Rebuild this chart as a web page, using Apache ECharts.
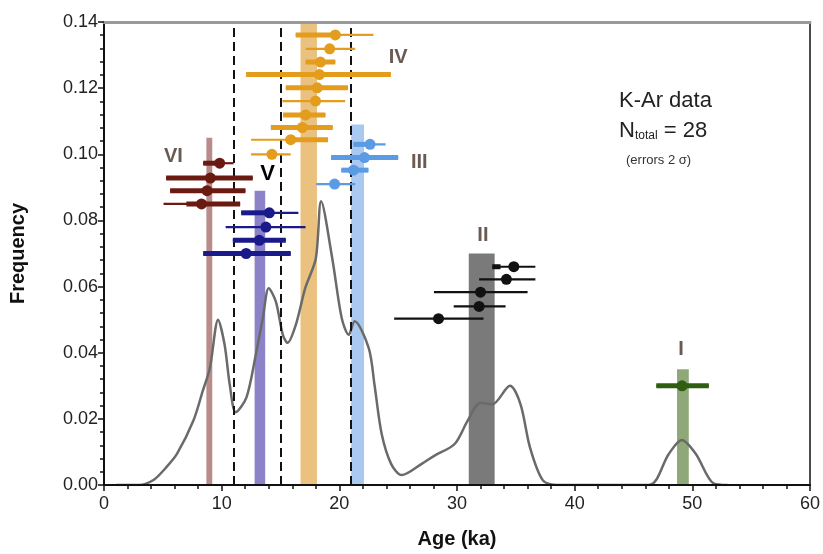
<!DOCTYPE html>
<html>
<head>
<meta charset="utf-8">
<script src="https://cdn.jsdelivr.net/npm/echarts@6/dist/echarts.min.js"></script>
<style>
  html, body { margin: 0; padding: 0; background: #fff; }
  #chart { width: 823px; height: 554px; }
</style>
</head>
<body>
<div id="chart"></div>
<script>
// density curve (age ka, frequency)
var curveAge  = [1, 3, 4.2, 5.2, 6.2, 7.6, 8.4, 9.0, 9.7, 10.25, 10.7, 11.2, 12.1, 12.9, 13.5, 14.0, 14.6, 15.2, 15.6, 16.3, 17.1, 18.0, 18.45, 19.4, 20.2, 20.8, 21.3, 22.5, 23.0, 23.6, 24.4, 25.3, 27.0, 28.1, 29.8, 30.9, 32.0, 33.0, 34.5, 35.4, 36.2, 37.3, 38.5, 46.3, 48.0, 49.1, 50.3, 51.8, 53];
var curveFreq = [0, 0, 0.0015, 0.005, 0.0094, 0.0195, 0.0285, 0.0354, 0.050, 0.0424, 0.030, 0.022, 0.0264, 0.0394, 0.0505, 0.0595, 0.0555, 0.0454, 0.043, 0.0484, 0.0595, 0.0685, 0.0858, 0.0685, 0.0505, 0.0454, 0.0495, 0.0414, 0.030, 0.0154, 0.0064, 0.003, 0.0064, 0.0089, 0.0124, 0.0194, 0.0249, 0.0244, 0.030, 0.0244, 0.0114, 0.0014, 0, 0, 0.0094, 0.0136, 0.0094, 0.0005, 0];

// population bands: [from, to, height]
var bandNames = ['VI', 'V', 'IV', 'III', 'II', 'I'];
var bandFrom  = [8.7, 12.8, 16.7, 21.0, 31.0, 48.7];
var bandTo    = [9.2, 13.7, 18.1, 22.1, 33.2, 49.7];
var bandTop   = [0.105, 0.089, 0.14, 0.109, 0.070, 0.035];
var bandColors = ['#b98c8c', '#8c82c8', '#ebc180', '#aac9f1', '#7a7a7a', '#8fa878'];

// dashed boundaries
var boundaries = [11, 15, 21];

// single ages: [age, y-position, lo, hi, innerLo, innerHi] (inner = thick part, null = thin only)
var agesVI = [
  [9.83, 0.0973, 8.43, 11.01, 8.43, 10.1],
  [9.04, 0.0928, 5.28, 12.64, 5.28, 12.64],
  [8.76, 0.0890, 5.62, 12.02, 5.62, 12.02],
  [8.29, 0.0850, 5.06, 11.57, 7.0, 11.57]
];
var agesV = [
  [14.05, 0.0823, 11.66, 16.52, 11.66, 14.2],
  [13.76, 0.0780, 10.34, 17.13, null, null],
  [13.2, 0.0740, 10.95, 15.45, 10.95, 15.45],
  [12.08, 0.0700, 8.43, 15.87, 8.43, 15.87]
];
var agesIV = [
  [19.66, 0.1361, 16.29, 22.9, 16.29, 19.66],
  [19.18, 0.1319, 17.13, 21.35, null, null],
  [18.4, 0.1279, 17.13, 19.66, 17.13, 19.66],
  [18.31, 0.1241, 12.08, 24.38, 12.08, 24.38],
  [18.12, 0.1201, 15.45, 20.73, 15.45, 20.73],
  [17.98, 0.1161, 15.17, 20.5, null, null],
  [17.13, 0.1119, 15.23, 18.82, 15.23, 18.82],
  [16.85, 0.1081, 14.18, 19.44, 14.18, 19.44],
  [15.87, 0.1044, 12.5, 19.04, 15.45, 19.04],
  [14.27, 0.1000, 12.5, 15.87, null, null]
];
var agesIII = [
  [22.61, 0.1030, 21.2, 23.93, 21.2, 22.61],
  [22.14, 0.0990, 19.3, 25.0, 19.3, 25.0],
  [21.2, 0.0952, 20.17, 22.47, 20.17, 22.47],
  [19.6, 0.0910, 18.03, 21.35, null, null]
];
var agesII = [
  [34.83, 0.0660, 33.0, 36.66, 33.0, 33.7],
  [34.2, 0.0622, 31.88, 36.66, null, null],
  [32.0, 0.0583, 28.04, 36.0, null, null],
  [31.88, 0.0540, 29.72, 34.13, null, null],
  [28.43, 0.0503, 24.66, 32.25, null, null]
];
var agesI = [
  [49.13, 0.030, 46.94, 51.4, 46.94, 51.4]
];

// group labels
var labelText = ['VI', 'V', 'IV', 'III', 'II', 'I'];
var labelAge  = [5.9, 13.9, 25.0, 26.8, 32.2, 49.05];
var labelFreq = [0.0994, 0.0940, 0.1292, 0.0976, 0.0754, 0.0411];

var curveData = curveAge.map(function (a, i) { return [a, curveFreq[i]]; });
var bandData = bandFrom.map(function (f, i) { return [f, bandTo[i], bandTop[i], i]; });
var labelData = labelText.map(function (t, i) { return [labelAge[i], labelFreq[i], i]; });

function barSeries(name, rows, color) {
  return {
    name: name,
    type: 'custom',
    z: 5,
    data: rows,
    encode: { x: [0, 2, 3], y: 1 },
    renderItem: function (params, api) {
      var row = rows[params.dataIndex];
      var p = api.coord([row[0], row[1]]);
      var a = api.coord([row[2], row[1]]);
      var b = api.coord([row[3], row[1]]);
      var kids = [{
        type: 'line',
        shape: { x1: a[0], y1: a[1], x2: b[0], y2: b[1] },
        style: { stroke: color, lineWidth: 2.2 }
      }];
      if (row[4] != null) {
        var c = api.coord([row[4], row[1]]);
        var d = api.coord([row[5], row[1]]);
        kids.push({
          type: 'line',
          shape: { x1: c[0], y1: c[1], x2: d[0], y2: d[1] },
          style: { stroke: color, lineWidth: 5 }
        });
      }
      kids.push({
        type: 'circle',
        shape: { cx: p[0], cy: p[1], r: 5.5 },
        style: { fill: color }
      });
      return { type: 'group', children: kids };
    }
  };
}

var chart = echarts.init(document.getElementById('chart'));
var fontFam = '"Liberation Sans", Arial, sans-serif';

chart.setOption({
  animation: false,
  backgroundColor: '#fff',
  textStyle: { fontFamily: fontFam },
  grid: { left: 100, right: 11, top: 22, bottom: 66 },
  xAxis: [{
    type: 'value', min: 0, max: 60, interval: 10, z: 10,
    name: 'Age (ka)', nameLocation: 'middle', nameGap: 44,
    nameTextStyle: { fontSize: 20, fontWeight: 'bold', color: '#111' },
    axisLine: { onZero: false, lineStyle: { color: '#111', width: 2 } },
    axisTick: { length: 6, lineStyle: { color: '#111', width: 1.5 } },
    minorTick: { show: true, splitNumber: 5, length: 4, lineStyle: { color: '#111', width: 1.5 } },
    axisLabel: { fontSize: 18, color: '#222', margin: 10 },
    splitLine: { show: false }
  }, {
    type: 'value', min: 0, max: 60, position: 'top', z: 10,
    axisLine: { show: true, onZero: false, lineStyle: { color: '#9a9a9a', width: 3 } },
    axisTick: { show: false }, axisLabel: { show: false }, splitLine: { show: false }
  }],
  yAxis: [{
    type: 'value', min: 0, max: 0.14, interval: 0.02, z: 10,
    name: 'Frequency', nameLocation: 'middle', nameGap: 76,
    nameTextStyle: { fontSize: 20, fontWeight: 'bold', color: '#111' },
    axisLine: { show: true, onZero: false, lineStyle: { color: '#111', width: 2 } },
    axisTick: { length: 6, lineStyle: { color: '#111', width: 1.5 } },
    minorTick: { show: true, splitNumber: 5, length: 4, lineStyle: { color: '#111', width: 1.5 } },
    axisLabel: { fontSize: 18, color: '#222', margin: 6, formatter: function (v) { return v.toFixed(2); } },
    splitLine: { show: false }
  }, {
    type: 'value', min: 0, max: 0.14, position: 'right', z: 10,
    axisLine: { show: true, onZero: false, lineStyle: { color: '#111', width: 1.5 } },
    axisTick: { show: false }, axisLabel: { show: false }, splitLine: { show: false }
  }],
  series: [
    {
      name: 'bands',
      type: 'custom',
      z: 1,
      data: bandData,
      encode: { x: [0, 1], y: 2 },
      renderItem: function (params, api) {
        var lo = api.coord([api.value(0), 0]);
        var hi = api.coord([api.value(1), api.value(2)]);
        return {
          type: 'rect',
          shape: { x: lo[0], y: hi[1], width: hi[0] - lo[0], height: lo[1] - hi[1] },
          style: { fill: bandColors[api.value(3)] }
        };
      }
    },
    {
      name: 'density',
      type: 'line',
      z: 3,
      data: curveData,
      smooth: 0.3,
      symbol: 'none',
      lineStyle: { color: '#6a6a6a', width: 2.5 },
      markLine: {
        silent: true,
        symbol: 'none',
        label: { show: false },
        lineStyle: { color: '#111', width: 2, type: [9, 5] },
        data: boundaries.map(function (b) { return { xAxis: b }; })
      }
    },
    barSeries('VI', agesVI, '#6b1a12'),
    barSeries('V', agesV, '#1a1a8a'),
    barSeries('IV', agesIV, '#e39c1c'),
    barSeries('III', agesIII, '#5b9be3'),
    barSeries('II', agesII, '#111111'),
    barSeries('I', agesI, '#2f5e12'),
    {
      name: 'labels',
      type: 'custom',
      z: 6,
      data: labelData,
      renderItem: function (params, api) {
        var p = api.coord([api.value(0), api.value(1)]);
        var i = api.value(2);
        var isV = labelText[i] === 'V';
        return {
          type: 'text',
          x: p[0], y: p[1],
          style: {
            text: labelText[i],
            align: 'center', verticalAlign: 'middle',
            fontFamily: fontFam,
            fontSize: isV ? 22 : 20,
            fontWeight: 'bold',
            fill: isV ? '#000' : '#6a5a52'
          }
        };
      }
    }
  ],
  graphic: [{
    type: 'text',
    left: 619, top: 90,
    style: { text: 'K-Ar data', fontFamily: fontFam, fontSize: 22, fill: '#222' }
  }, {
    type: 'text',
    left: 619, top: 120,
    style: {
      text: '{n|N}{s|total}{n| = 28}',
      fontFamily: fontFam,
      rich: {
        n: { fontSize: 22, fill: '#222', fontFamily: fontFam },
        s: { fontSize: 12, fill: '#222', fontFamily: fontFam, padding: [10, 0, 0, 0] }
      }
    }
  }, {
    type: 'text',
    left: 626, top: 154,
    style: { text: '(errors 2 σ)', fontFamily: fontFam, fontSize: 13, fill: '#333' }
  }]
});
</script>
</body>
</html>
